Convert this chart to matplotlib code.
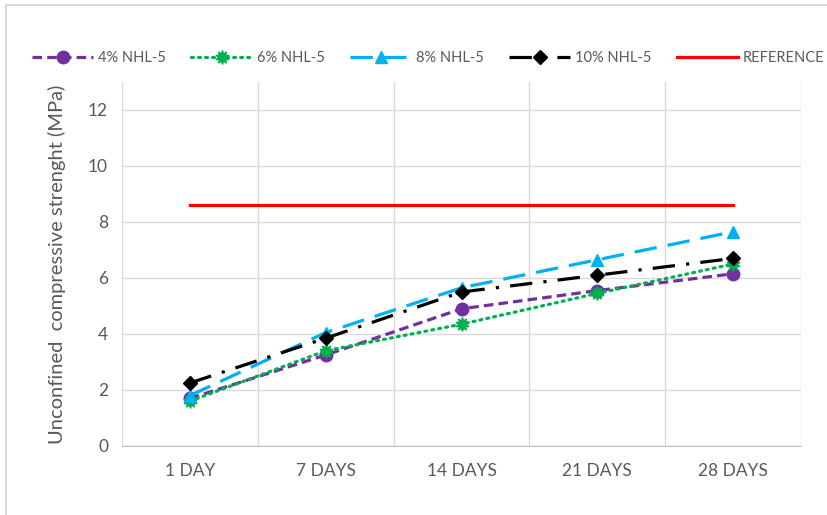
import numpy as np
import matplotlib.pyplot as plt
from matplotlib.patches import Rectangle

# Unconfined compressive strength vs curing time
days = ["1 DAY", "7 DAYS", "14 DAYS", "21 DAYS", "28 DAYS"]
nhl4 = [1.70, 3.25, 4.90, 5.55, 6.15]
nhl6 = [1.60, 3.40, 4.35, 5.45, 6.50]
nhl8 = [1.80, 4.05, 5.65, 6.65, 7.65]
nhl10 = [2.25, 3.85, 5.50, 6.10, 6.70]
reference = [8.6, 8.6, 8.6, 8.6, 8.6]

plt.rcParams['font.family'] = ['Lato', 'DejaVu Sans']
grey = "#595959"

fig = plt.figure(figsize=(8.27, 5.15), dpi=100)
ax = fig.add_axes([0.1475, 0.134, 0.8211, 0.7068])

x = np.arange(len(days))
lw = 2.3
ax.plot(x, nhl4, color="#7030A0", lw=lw, dashes=(3, 1.6), marker="o", ms=9,
        label="4% NHL-5", zorder=3)
ax.plot(x, nhl6, color="#00B050", lw=lw, linestyle=(0, (0.6, 1.6)),
        dash_capstyle="round", marker=(10, 1, 0), ms=10,
        label="6% NHL-5", zorder=3)
ax.plot(x, nhl8, color="#00B0F0", lw=lw, dashes=(7, 3.5), marker="^", ms=9,
        label="8% NHL-5", zorder=3)
ax.plot(x, nhl10, color="black", lw=lw, dashes=(7, 3.5, 1, 3.5), marker="D", ms=7.5,
        label="10% NHL-5", zorder=4)
ax.plot(x, reference, color="#FF0000", lw=lw, label="REFERENCE", zorder=3)

ax.set_xlim(-0.5, len(days) - 0.5)
ax.set_ylim(0, 13)
ax.set_yticks(np.arange(0, 13, 2))
ax.set_xticks(x)
ax.set_xticklabels(days)
ax.set_xticks(np.arange(-0.5, len(days), 1), minor=True)
ax.grid(True, axis="y", color="#D9D9D9", lw=1)
ax.grid(True, axis="x", which="minor", color="#D9D9D9", lw=1)
ax.set_axisbelow(True)
ax.tick_params(which="both", length=0, labelsize=12.5, colors=grey, pad=10)
ax.tick_params(axis="x", pad=12)
for s in ["top", "left", "right"]:
    ax.spines[s].set_visible(False)
ax.spines["bottom"].set_color("#BFBFBF")
ax.set_ylabel("Unconfined  compressive strenght (MPa)", fontsize=14.5, color=grey,
              labelpad=16)

# chart border (cropped at right and bottom)
fig.patches.append(Rectangle((0.007, -0.1), 1.2, 1.09, transform=fig.transFigure,
                             fill=False, edgecolor="#D9D9D9", lw=1.5))

fig.legend(loc="center", bbox_to_anchor=(0.5175, 0.888), ncol=5, frameon=False,
           fontsize=10.5, handlelength=4.2, columnspacing=1.75, handletextpad=0.3,
           labelcolor=grey)

fig.savefig("out.png", dpi=100)
